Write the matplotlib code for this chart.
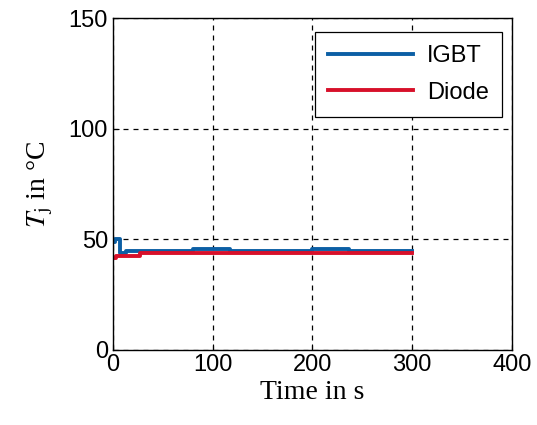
import numpy as np
import matplotlib
matplotlib.use("Agg")
import matplotlib.pyplot as plt

plt.rcParams["mathtext.fontset"] = "stix"

# junction temperature traces (step-like)
t_igbt = [0, 2, 7, 9, 13, 80, 117, 200, 237, 300]
tj_igbt = [49.0, 50.0, 44.0, 44.0, 44.9, 45.8, 44.9, 45.8, 44.9, 44.9]

t_diode = [0, 3, 27, 300]
tj_diode = [41.5, 42.3, 43.7, 43.7]

xticks = [0, 100, 200, 300, 400]
yticks = [0, 50, 100, 150]

fig = plt.figure(figsize=(5.37, 4.25), dpi=100)
ax = fig.add_axes([0.2104, 0.1765, 0.743, 0.781])

ax.plot(t_igbt, tj_igbt, drawstyle="steps-post", color="#0b5fa5",
        linewidth=2.8, label="IGBT")
ax.plot(t_diode, tj_diode, drawstyle="steps-post", color="#d7102a",
        linewidth=2.8, label="Diode")

ax.set_xlim(0, 400)
ax.set_ylim(0, 150)
ax.set_xticks(xticks)
ax.set_yticks(yticks)
for lab in ax.get_xticklabels() + ax.get_yticklabels():
    lab.set_family("Liberation Sans")
ax.tick_params(direction="in", length=4, labelsize=17, color="black", width=0.8)
ax.tick_params(axis="x", pad=3)
ax.grid(True, color="black", linestyle=(0, (4, 4)), linewidth=0.9)

for sp in ax.spines.values():
    sp.set_linewidth(1.0)
    sp.set_color("black")

ax.set_xlabel("Time in s", family="Liberation Serif", fontsize=20, labelpad=3)
ax.set_ylabel(r"$T_\mathrm{j}$ in °C", family="Liberation Serif", fontsize=20, labelpad=10)

leg = ax.legend(loc="upper right", bbox_to_anchor=(0.975, 0.958),
                borderaxespad=0,
                prop={"family": "Liberation Sans", "size": 17},
                handlelength=3.6, handletextpad=0.6, fancybox=False, framealpha=1,
                edgecolor="black", borderpad=0.55, labelspacing=0.62)
leg.get_frame().set_linewidth(0.9)

fig.savefig("out.png", dpi=100)
